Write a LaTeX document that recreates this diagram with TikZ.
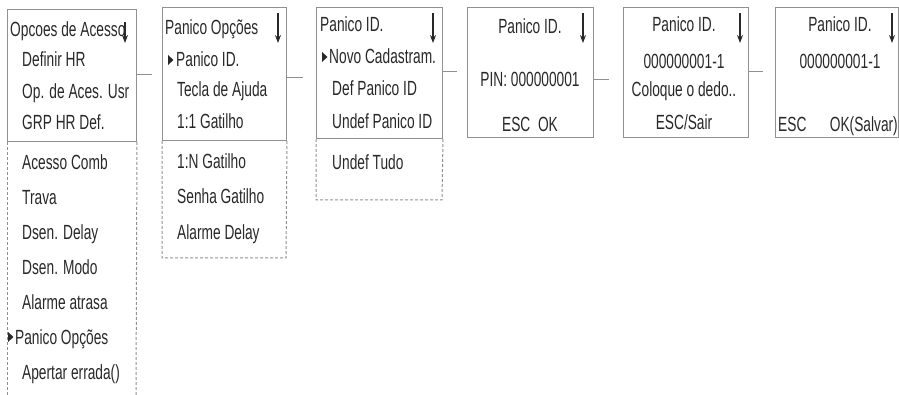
\documentclass[tikz,border=0pt]{standalone}
\usepackage{fontspec}
\setmainfont{Liberation Sans}[FakeStretch=0.67]
\usetikzlibrary{arrows.meta}
\definecolor{linec}{RGB}{145,145,145}
\definecolor{txtc}{RGB}{40,40,40}
\begin{document}
\begin{tikzpicture}[x=1pt,y=-1pt,
  font=\fontsize{20.5}{20.5}\selectfont,
  txt/.style={inner sep=0pt, text=txtc, anchor=base west},
  ctxt/.style={inner sep=0pt, text=txtc, anchor=base},
  rtxt/.style={inner sep=0pt, text=txtc, anchor=base east},
  frame/.style={draw=linec, line width=1pt, anchor=north west, inner sep=0pt},
  dsh/.style={draw=linec, line width=1pt, dash pattern=on 3pt off 2pt},
  conn/.style={draw=linec, line width=1pt},
  dnarrow/.style={-{Stealth[length=8pt,width=6pt]}, line width=1.1pt, draw=txtc},
  ptr/.style={fill=txtc}
]
\useasboundingbox (0,0) rectangle (899,395);

% frames
\node[frame, minimum width=129pt, minimum height=132pt] (b1) at (7,9) {};
\node[frame, minimum width=124pt, minimum height=133pt] (b2) at (162,7) {};
\node[frame, minimum width=126pt, minimum height=131pt] (b3) at (316,7) {};
\node[frame, minimum width=126pt, minimum height=130pt] (b4) at (467,7) {};
\node[frame, minimum width=125pt, minimum height=130pt] (b5) at (623,7) {};
\node[frame, minimum width=123pt, minimum height=130pt] (b6) at (775,7) {};

% dashed continuations
\draw[dsh] (b1.south west) -- (7,395);
\draw[dsh] (b1.south east) -- (136,395);
\draw[dsh] (b2.south west) -- (162,258) -- (286,258) -- (b2.south east);
\draw[dsh] (b3.south west) -- (316,200) -- (442,200) -- (b3.south east);

% connectors
\draw[conn, shorten >=10pt] (b1.east |- 0,75) -- (b2.west |- 0,75);
\draw[conn, shorten >=13pt] (b2.east |- 0,78) -- (b3.west |- 0,78);
\draw[conn, shorten >=10pt] (b3.east |- 0,72) -- (b4.west |- 0,72);
\draw[conn, shorten >=14pt] (b4.east |- 0,80) -- (b5.west |- 0,80);
\draw[conn, shorten >=12pt] (b5.east |- 0,72) -- (b6.west |- 0,72);

% down arrows
\draw[dnarrow] (125,22) -- (125,43);
\draw[dnarrow] (278,13) -- (278,43);
\draw[dnarrow] (433,13) -- (433,43);
\draw[dnarrow] (583,13) -- (583,43);
\draw[dnarrow] (740,13) -- (740,43);
\draw[dnarrow] (892,13) -- (892,43);

% box 1
\node[txt] (t1a) at (10,37) {Opcoes de Acesso};
\node[txt] (t1b) at (22,67) {Definir HR};
\node[txt] (t1c) at (22,99) {Op. de Aces. Usr};
\node[txt] (t1d) at (22,130) {GRP HR Def.};
\node[txt] (t1e) at (22,170) {Acesso Comb};
\node[txt] (t1f) at (22,205) {Trava};
\node[txt] (t1g) at (22,240) {Dsen. Delay};
\node[txt] (t1h) at (22,275) {Dsen. Modo};
\node[txt] (t1i) at (22,309) {Alarme atrasa};
\fill[ptr] (8,332) -- (13.5,337) -- (8,342) -- cycle;
\node[txt] (t1j) at (15,344) {Panico Opções};
\node[txt] (t1k) at (22,379) {Apertar errada()};

% box 2
\node[txt] (t2a) at (165,35) {Panico Opções};
\fill[ptr] (168,55) -- (173.5,60) -- (168,65) -- cycle;
\node[txt] (t2b) at (176,67) {Panico ID.};
\node[txt] (t2c) at (177,97) {Tecla de Ajuda};
\node[txt] (t2d) at (177,129) {1:1 Gatilho};
\node[txt] (t2e) at (177,169) {1:N Gatilho};
\node[txt] (t2f) at (177,204) {Senha Gatilho};
\node[txt] (t2g) at (177,240) {Alarme Delay};

% box 3
\node[txt] (t3a) at (320,32) {Panico ID.};
\fill[ptr] (322,52) -- (327.5,57) -- (322,62) -- cycle;
\node[txt] (t3b) at (329,64) {Novo Cadastram.};
\node[txt] (t3c) at (332,96) {Def Panico ID};
\node[txt] (t3d) at (332,129) {Undef Panico ID};
\node[txt] (t3e) at (332,170) {Undef Tudo};

% box 4
\node[ctxt] (t4a) at (530,34) {Panico ID.};
\node[ctxt] (t4b) at (530,87) {PIN: 000000001};
\node[ctxt] (t4c) at (530,132) {ESC\ \ OK};

% box 5
\node[ctxt] (t5a) at (684,32) {Panico ID.};
\node[ctxt] (t5b) at (684,69) {000000001-1};
\node[ctxt] (t5c) at (684,97) {Coloque o dedo..};
\node[ctxt] (t5d) at (684,130) {ESC/Sair};

% box 6
\node[ctxt] (t6a) at (840,32) {Panico ID.};
\node[ctxt] (t6b) at (840,69) {000000001-1};
\node[txt] (t6c) at (778,132) {ESC};
\node[rtxt] (t6d) at (898,132) {OK(Salvar)};
\end{tikzpicture}
\end{document}
